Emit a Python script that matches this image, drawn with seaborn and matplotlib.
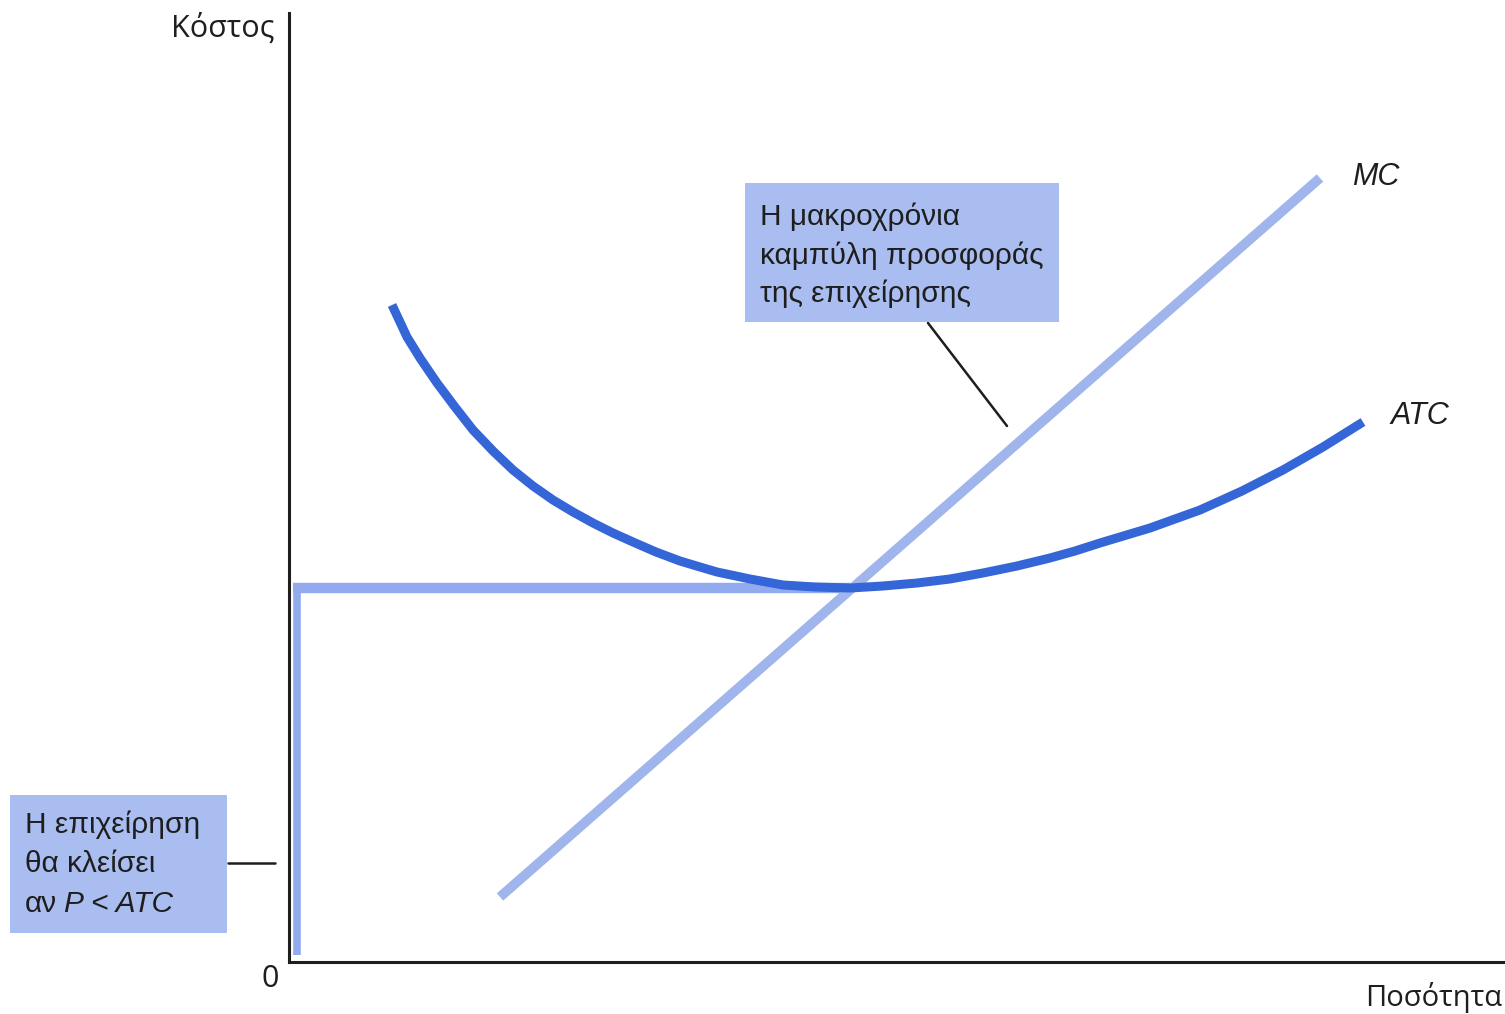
import matplotlib
matplotlib.use("Agg")
import matplotlib.pyplot as plt
import matplotlib.transforms as mtransforms
from matplotlib.patches import Rectangle
from matplotlib.lines import Line2D
import pandas as pd
import seaborn as sns

# Long-run average total cost (ATC) curve of the firm
atc_q = [1.03, 1.11, 1.18, 1.31, 1.48, 1.66, 1.84, 2.04, 2.24, 2.44, 2.64,
         2.84, 3.04, 3.24, 3.44, 3.67, 3.91, 4.11, 4.28, 4.61, 4.94, 5.26,
         5.61, 5.94, 6.28, 6.61, 6.94, 7.28, 7.61, 7.86, 8.11, 8.61, 9.11,
         9.53, 9.94, 10.34, 10.74]
atc_cost = [6.57, 6.40, 6.25, 6.04, 5.79, 5.55, 5.32, 5.11, 4.92, 4.76, 4.62,
            4.50, 4.39, 4.29, 4.20, 4.10, 4.01, 3.95, 3.90, 3.83, 3.77, 3.75,
            3.74, 3.76, 3.79, 3.83, 3.89, 3.96, 4.04, 4.11, 4.19, 4.34, 4.52,
            4.71, 4.92, 5.15, 5.40]

# Marginal cost (MC) line
mc_q = [2.11, 10.31]
mc_cost = [0.65, 7.84]

# Shutdown price: minimum of ATC
p_min_q = 5.61
p_min = 3.74

box_supply = ["Η μακροχρόνια", "καμπύλη προσφοράς", "της επιχείρησης"]
box_shutdown = ["Η επιχείρηση", "θα κλείσει", "αν"]

sns.set_theme(style="white")
plt.rcParams["font.family"] = ["Liberation Sans", "DejaVu Sans"]

W, H = 1505, 1014
fig = plt.figure(figsize=(W / 100, H / 100), dpi=100)
fig.patch.set_facecolor("white")
ax = fig.add_axes([289 / W, (H - 962) / H, (1503 - 289) / W, (962 - 13) / H])
ax.set_xlim(0, 12.14)
ax.set_ylim(0, 9.49)

# pixel coordinates measured from the top-left corner of the figure
px = mtransforms.Affine2D().scale(1 / W, -1 / H).translate(0, 1) + fig.transFigure

ATC_COLOR = "#3466d8"
MC_COLOR = "#a0b5ec"
P_COLOR = "#92abee"
BOX_COLOR = "#aabdf0"
INK = "#1e1e1e"

# price floor: horizontal at min ATC and vertical along the cost axis
ax.plot([0.04, p_min_q], [p_min, p_min], color=P_COLOR, lw=7.5,
        solid_capstyle="butt", zorder=2)
ax.plot([0.075, 0.075], [0.07, p_min + 0.05], color=P_COLOR, lw=5.5,
        solid_capstyle="butt", zorder=2)

mc_df = pd.DataFrame({"q": mc_q, "cost": mc_cost})
atc_df = pd.DataFrame({"q": atc_q, "cost": atc_cost})
sns.lineplot(data=mc_df, x="q", y="cost", ax=ax, color=MC_COLOR, lw=7,
             sort=False, estimator=None, zorder=3)
sns.lineplot(data=atc_df, x="q", y="cost", ax=ax, color=ATC_COLOR, lw=6.5,
             sort=False, estimator=None, zorder=4)
for ln in ax.lines:
    ln.set_solid_capstyle("butt")
    ln.set_solid_joinstyle("round")

# axes: only the two black axis lines
for side in ("top", "right"):
    ax.spines[side].set_visible(False)
for side in ("left", "bottom"):
    ax.spines[side].set_color(INK)
    ax.spines[side].set_linewidth(2.2)
ax.set_xticks([])
ax.set_yticks([])
ax.set_xlabel("")
ax.set_ylabel("")
ax.set_facecolor("white")

# axis texts
axis_font = ["Open Sans", "DejaVu Sans"]
fig.text(223, 37, "Κόστος", transform=px, fontsize=22, family=axis_font,
         ha="center", va="baseline", color=INK)
fig.text(1434, 1006, "Ποσότητα", transform=px, fontsize=21, family=axis_font,
         ha="center", va="baseline", color=INK)
fig.text(270, 987, "0", transform=px, fontsize=22, family=axis_font,
         ha="center", va="baseline", color=INK)

# curve labels
fig.text(1376, 185, "MC", transform=px, fontsize=22, style="italic",
         ha="center", va="baseline", color=INK)
fig.text(1420, 424, "ATC", transform=px, fontsize=22, style="italic",
         ha="center", va="baseline", color=INK)

# supply-curve box with leader line
fig.add_artist(Rectangle((745, 183), 314, 139, transform=px, facecolor=BOX_COLOR,
                         edgecolor="none", zorder=1))
for i, line in enumerate(box_supply):
    fig.text(760, 225 + 38.5 * i, line, transform=px, fontsize=21.5,
             ha="left", va="baseline", color=INK)
fig.add_artist(Line2D([928, 1007], [323, 426], transform=px, color=INK, lw=1.8))

# shutdown box with leader line
fig.add_artist(Rectangle((10, 795), 217, 138, transform=px, facecolor=BOX_COLOR,
                         edgecolor="none", zorder=1))
for i, line in enumerate(box_shutdown):
    fig.text(25, 833 + 39.5 * i, line, transform=px, fontsize=21.5,
             ha="left", va="baseline", color=INK)
fig.text(64, 912, "P < ATC", transform=px, fontsize=21.5, style="italic",
         ha="left", va="baseline", color=INK)
fig.add_artist(Line2D([228, 275], [863, 863], transform=px, color=INK, lw=1.8))

fig.savefig("out.png", dpi=100, facecolor="white")
